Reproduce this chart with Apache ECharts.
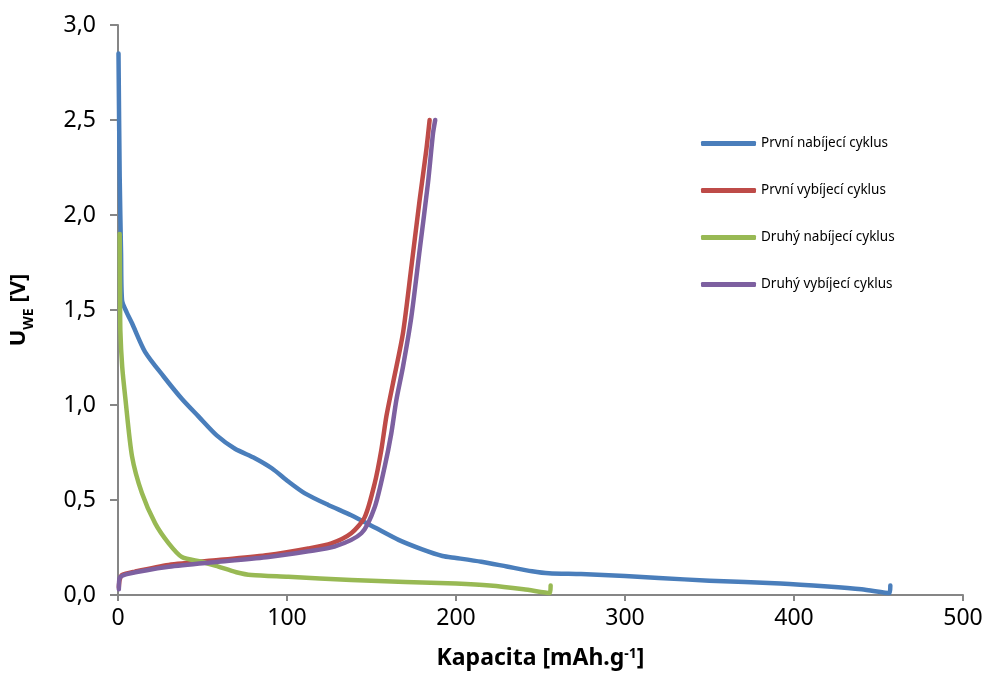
<!DOCTYPE html>
<html>
<head>
<meta charset="utf-8">
<script src="https://cdn.jsdelivr.net/npm/echarts@6/dist/echarts.min.js"></script>
<style>
html,body{margin:0;padding:0;background:#fff;}
#c{width:987px;height:682px;}
</style>
</head>
<body>
<div id="c"></div>
<script>
const seriesNames = ['První nabíjecí cyklus', 'První vybíjecí cyklus', 'Druhý nabíjecí cyklus', 'Druhý vybíjecí cyklus'];
const xTicks = [0, 100, 200, 300, 400, 500];
const yTicks = [0, 0.5, 1.0, 1.5, 2.0, 2.5, 3.0];

const blueX = [0.3, 1.0, 1.8, 2.4, 5, 8.3, 16, 27, 38, 47.6, 58.4, 69.2, 81, 91, 101, 110.6, 124.4, 138, 152, 166, 180, 192, 200, 215, 230, 245, 255, 274, 300, 320, 350, 392, 420, 440, 456.5, 457];
const blueY = [2.85, 2.2, 1.8, 1.55, 1.49, 1.43, 1.28, 1.15, 1.03, 0.94, 0.84, 0.77, 0.72, 0.667, 0.596, 0.535, 0.474, 0.42, 0.355, 0.29, 0.24, 0.205, 0.195, 0.175, 0.15, 0.125, 0.114, 0.11, 0.1, 0.09, 0.075, 0.061, 0.045, 0.03, 0.01, 0.05];

const redX = [0.5, 1, 2.4, 10, 30, 59.4, 89, 112.6, 126.3, 138, 146, 151.9, 155.8, 158.8, 162.7, 168.6, 173.6, 178.5, 182.4, 184.4];
const redY = [0.04, 0.08, 0.105, 0.123, 0.158, 0.184, 0.21, 0.245, 0.272, 0.325, 0.41, 0.588, 0.763, 0.94, 1.114, 1.377, 1.728, 2.08, 2.34, 2.5];

const greenX = [1, 1.2, 1.4, 2.5, 4.3, 8.3, 14.2, 22, 30, 37.8, 49.6, 59.4, 70, 79, 100.8, 138, 170, 200, 220, 240, 255.5, 256];
const greenY = [1.9, 1.6, 1.39, 1.2, 1.04, 0.73, 0.535, 0.377, 0.272, 0.2, 0.175, 0.149, 0.12, 0.105, 0.096, 0.079, 0.068, 0.06, 0.05, 0.03, 0.01, 0.05];

const purpleX = [0.5, 1, 5.3, 30, 59.4, 89, 112.6, 128, 144, 152, 157.8, 161.7, 164.7, 168.6, 173.6, 178.5, 183.4, 186.4, 187.7];
const purpleY = [0.03, 0.09, 0.11, 0.149, 0.175, 0.2, 0.23, 0.254, 0.325, 0.465, 0.675, 0.85, 1.026, 1.2, 1.465, 1.816, 2.167, 2.43, 2.5];

const colors = ['#4A7EBB', '#BE4B48', '#98B954', '#7D60A0'];

function zip(xs, ys) { return xs.map((x, i) => [x, ys[i]]); }
const allData = [zip(blueX, blueY), zip(redX, redY), zip(greenX, greenY), zip(purpleX, purpleY)];

const FONT = 'Noto Sans';
const chart = echarts.init(document.getElementById('c'));
chart.setOption({
  animation: false,
  backgroundColor: '#fff',
  color: colors,
  grid: { left: 116, right: 24, top: 25, bottom: 87, containLabel: false },
  legend: {
    orient: 'vertical',
    left: 696,
    top: 131,
    itemWidth: 55,
    itemHeight: 5,
    itemGap: 32,
    icon: 'roundRect',
    data: seriesNames,
    textStyle: { fontFamily: FONT, fontSize: 13.5, color: '#000', lineHeight: 15 }
  },
  xAxis: {
    type: 'value',
    min: xTicks[0], max: xTicks[xTicks.length - 1], interval: 100,
    name: '{b|Kapacita [mAh.g}{sup|-1}{b|]}',
    nameLocation: 'middle',
    nameGap: 52,
    nameTextStyle: {
      rich: {
        b: { fontFamily: FONT, fontWeight: 'bold', fontSize: 23, color: '#000', lineHeight: 28, verticalAlign: 'top' },
        sup: { fontFamily: FONT, fontWeight: 'bold', fontSize: 14, color: '#000', lineHeight: 20, verticalAlign: 'top' }
      }
    },
    axisLine: { lineStyle: { color: '#868686', width: 2 } },
    axisTick: { show: true, length: 6, lineStyle: { color: '#868686', width: 2 } },
    axisLabel: { fontFamily: FONT, fontSize: 23, color: '#000', margin: 12 },
    splitLine: { show: false }
  },
  yAxis: {
    type: 'value',
    min: yTicks[0], max: yTicks[yTicks.length - 1], interval: 0.5,
    name: '{b|U}{sub|WE}{b| [V]}',
    nameLocation: 'middle',
    nameRotate: 90,
    nameGap: 82,
    nameTextStyle: {
      rich: {
        b: { fontFamily: FONT, fontWeight: 'bold', fontSize: 22, color: '#000', lineHeight: 28, verticalAlign: 'top' },
        sub: { fontFamily: FONT, fontWeight: 'bold', fontSize: 14, color: '#000', lineHeight: 20, verticalAlign: 'bottom' }
      }
    },
    axisLine: { show: true, lineStyle: { color: '#868686', width: 2 } },
    axisTick: { show: true, length: 8, lineStyle: { color: '#868686', width: 2 } },
    axisLabel: {
      fontFamily: FONT, fontSize: 23, color: '#000', margin: 22,
      formatter: v => v.toFixed(1).replace('.', ',')
    },
    splitLine: { show: false }
  },
  series: seriesNames.map((n, i) => ({
    name: n,
    type: 'line',
    data: allData[i],
    showSymbol: false,
    symbol: 'none',
    smooth: 0.25,
    lineStyle: { width: 4.5, color: colors[i], cap: 'round', join: 'round' },
    itemStyle: { color: colors[i] }
  }))
});
</script>
</body>
</html>
